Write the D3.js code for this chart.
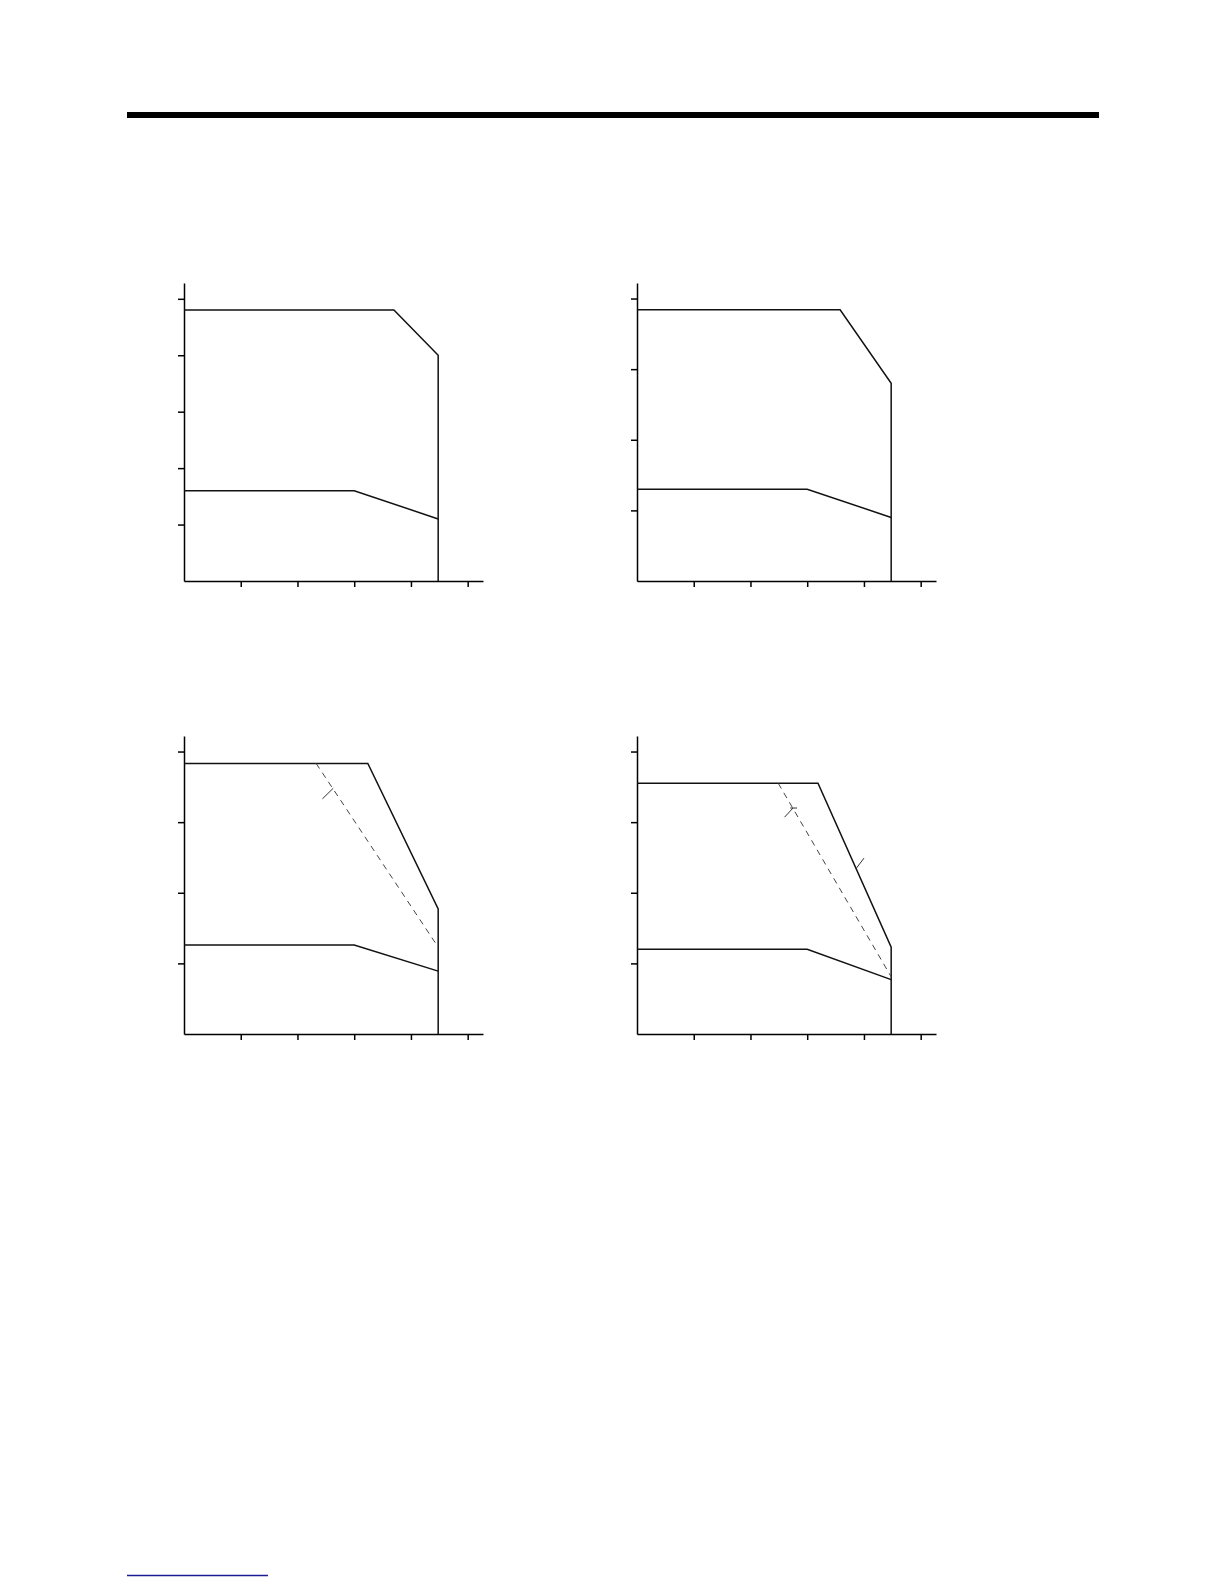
<!DOCTYPE html>
<html>
<head>
<meta charset="utf-8">
<script src="https://cdn.jsdelivr.net/npm/d3@7"></script>
<style>
  body { margin: 0; background: #fff; }
  svg { display: block; }
</style>
</head>
<body>
<div id="page"></div>
<script>
// values are in tick units (no labels printed)
var xTicks = [1, 2, 3, 4, 5],
    yTicksA = [1, 2, 3, 4, 5],
    yTicksB = [1, 2, 3, 4];

var upper1 = [[0, 4.80], [3.70, 4.80], [4.48, 4.00], [4.48, 0]],
    lower1 = [[0, 1.60], [3.00, 1.60], [4.48, 1.10]];

var upper2 = [[0, 3.84], [3.58, 3.84], [4.48, 2.80], [4.48, 0]],
    lower2 = [[0, 1.30], [3.00, 1.30], [4.48, 0.90]];

var upper3 = [[0, 3.83], [3.24, 3.83], [4.48, 1.77], [4.48, 0]],
    lower3 = [[0, 1.26], [3.00, 1.26], [4.48, 0.89]],
    dashed3 = [[2.33, 3.83], [4.48, 1.23]],
    marks3 = [[[2.44, 3.33], [2.63, 3.48]]];

var upper4 = [[0, 3.55], [3.19, 3.55], [4.48, 1.23], [4.48, 0]],
    lower4 = [[0, 1.20], [3.00, 1.20], [4.48, 0.77]],
    dashed4 = [[2.49, 3.55], [4.48, 0.81]],
    marks4 = [[[2.60, 3.07], [2.75, 3.20]], [[2.70, 3.20], [2.82, 3.20]], [[3.86, 2.34], [4.00, 2.49]]];

var W = 1224, H = 1584;

var svg = d3.select("#page").append("svg")
    .attr("width", W)
    .attr("height", H);

// header rule and footer link line
svg.append("rect")
    .attr("x", 127).attr("y", 112)
    .attr("width", 972).attr("height", 6)
    .attr("fill", "#000");

svg.append("line")
    .attr("x1", 127).attr("x2", 268)
    .attr("y1", 1575.5).attr("y2", 1575.5)
    .attr("stroke", "#1c1c96")
    .attr("stroke-width", 1.3);

var panels = [
    {left: 184, base: 581, yMax: 5.28, yTicks: yTicksA, upper: upper1, lower: lower1},
    {left: 637, base: 581, yMax: 4.22, yTicks: yTicksB, upper: upper2, lower: lower2},
    {left: 184, base: 1034, yMax: 4.22, yTicks: yTicksB, upper: upper3, lower: lower3, dashed: dashed3, marks: marks3},
    {left: 637, base: 1034, yMax: 4.22, yTicks: yTicksB, upper: upper4, lower: lower4, dashed: dashed4, marks: marks4}
];

var plotW = 299, plotH = 298, xMax = 5.27;

panels.forEach(function(p){
    var g = svg.append("g")
        .attr("transform", "translate(" + p.left + "," + (p.base - plotH) + ")");

    var x = d3.scaleLinear().domain([0, xMax]).range([0, plotW]),
        y = d3.scaleLinear().domain([0, p.yMax]).range([plotH, 0]);

    var xAxis = d3.axisBottom(x).tickValues(xTicks).tickSize(6).tickSizeOuter(0).tickFormat(""),
        yAxis = d3.axisLeft(y).tickValues(p.yTicks).tickSize(6).tickSizeOuter(0).tickFormat("");

    g.append("g")
        .attr("transform", "translate(0," + plotH + ")")
        .call(xAxis);
    g.append("g").call(yAxis);

    g.selectAll(".domain, .tick line")
        .attr("stroke", "#000")
        .attr("stroke-width", 1.5);

    var line = d3.line()
        .x(function(d){ return x(d[0]); })
        .y(function(d){ return y(d[1]); });

    [p.upper, p.lower].forEach(function(s){
        g.append("path")
            .attr("d", line(s))
            .attr("fill", "none")
            .attr("stroke", "#111")
            .attr("stroke-width", 1.5);
    });

    if(p.dashed){
        g.append("path")
            .attr("d", line(p.dashed))
            .attr("fill", "none")
            .attr("stroke", "#444")
            .attr("stroke-width", 1)
            .attr("stroke-dasharray", "6,5");
    }

    if(p.marks){
        g.selectAll(".mark")
            .data(p.marks)
            .join("path")
            .attr("class", "mark")
            .attr("d", line)
            .attr("fill", "none")
            .attr("stroke", "#333")
            .attr("stroke-width", 1);
    }
});
</script>
</body>
</html>
